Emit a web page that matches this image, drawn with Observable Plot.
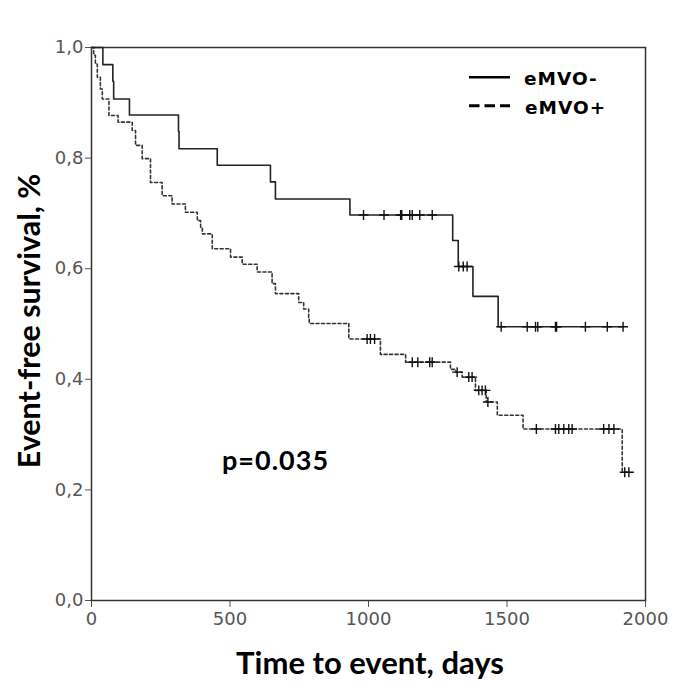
<!DOCTYPE html>
<html>
<head>
<meta charset="utf-8">
<script src="https://cdn.jsdelivr.net/npm/d3@7"></script>
<script src="https://cdn.jsdelivr.net/npm/@observablehq/plot@0.6"></script>
<style>
  body { margin: 0; background: white; }
  #wrap { position: relative; width: 685px; height: 700px; }
  .title { position: absolute; font-family: Lato, "Open Sans", sans-serif; font-weight: bold; color: #000; white-space: nowrap; line-height: 1.2; }
  .leg { position: absolute; font-family: "DejaVu Sans", sans-serif; font-weight: bold; font-size: 18.5px; letter-spacing: 1px; color: #000; white-space: nowrap; line-height: 1.164; }
</style>
</head>
<body>
<div id="wrap"></div>
<script>
// eMVO- (solid): event times (days) and survival after each event
const negTimes = [0, 41, 77, 80, 137, 314, 316, 454, 646, 664, 933, 1304, 1324, 1377, 1468];
const negSurv  = [1.0, 0.969, 0.939, 0.907, 0.878, 0.848, 0.817, 0.787, 0.757, 0.726, 0.697, 0.651, 0.604, 0.550, 0.495];
const negCensored = [982, 1056, 1116, 1120, 1149, 1158, 1185, 1230, 1326, 1342, 1356, 1479, 1573, 1603, 1611, 1675, 1679, 1783, 1862, 1919];

// eMVO+ (dashed)
const posTimes = [0, 8, 14, 21, 32, 39, 63, 96, 147, 159, 183, 213, 255, 291, 339, 382, 394, 400, 436, 502,
                  544, 598, 652, 664, 748, 766, 784, 786, 929, 1043, 1134, 1296, 1315, 1338, 1386, 1425, 1465, 1558, 1916];
const posSurv  = [1.0, 0.986, 0.970, 0.946, 0.925, 0.907, 0.877, 0.865, 0.850, 0.823, 0.799, 0.756, 0.732, 0.717, 0.702, 0.687, 0.675, 0.663, 0.636, 0.621,
                  0.608, 0.594, 0.573, 0.555, 0.539, 0.527, 0.512, 0.501, 0.473, 0.445, 0.431, 0.418, 0.413, 0.404, 0.380, 0.359, 0.335, 0.310, 0.232];
const posCensored = [995, 1007, 1022, 1158, 1178, 1221, 1230, 1320, 1362, 1374, 1398, 1410, 1422, 1431, 1606, 1675, 1687, 1705, 1723, 1735, 1849, 1868, 1886, 1925, 1940];

const xTicks = [0, 500, 1000, 1500, 2000];
const yTicks = [0, 0.2, 0.4, 0.6, 0.8, 1.0];
const seriesNames = ["eMVO-", "eMVO+"];
const xTitle = "Time to event, days";
const yTitle = "Event-free survival, %";
const pText = "p=0.035";

function survAt(times, surv, t) {
  let s = surv[0];
  for (let i = 0; i < times.length; i++) if (times[i] <= t) s = surv[i];
  return s;
}
function stepData(times, surv, censored) {
  const pts = times.map((t, i) => ({t, s: surv[i]}));
  const end = Math.max(times[times.length - 1], censored[censored.length - 1]);
  pts.push({t: end, s: survAt(times, surv, end)});
  return pts;
}
const negLine = stepData(negTimes, negSurv, negCensored);
const posLine = stepData(posTimes, posSurv, posCensored);
const negCens = negCensored.map(t => ({t, s: survAt(negTimes, negSurv, t)}));
const posCens = posCensored.map(t => ({t, s: survAt(posTimes, posSurv, t)}));

const chart = Plot.plot({
  width: 685,
  height: 700,
  marginLeft: 91,
  marginRight: 40,
  marginTop: 47,
  marginBottom: 100,
  style: {fontFamily: "'DejaVu Sans', sans-serif", fontSize: "18px", color: "#555", background: "white", overflow: "visible"},
  x: {domain: [0, 2000], ticks: xTicks, tickSize: 7, tickPadding: 5, label: null, tickFormat: d => String(d)},
  y: {domain: [0, 1], ticks: yTicks, tickSize: 6, tickPadding: 2, label: null, tickFormat: d => d.toFixed(1).replace(".", ",")},
  marks: [
    Plot.frame({stroke: "#333", strokeWidth: 1.5}),
    Plot.line(posLine, {x: "t", y: "s", curve: "step-after", stroke: "#333", strokeWidth: 1.6, strokeDasharray: "3,2.5"}),
    Plot.line(negLine, {x: "t", y: "s", curve: "step-after", stroke: "#222", strokeWidth: 1.6}),
    Plot.dot(negCens, {x: "t", y: "s", symbol: "plus", r: 3.3, stroke: "#111", strokeWidth: 1.4}),
    Plot.dot(posCens, {x: "t", y: "s", symbol: "plus", r: 3.3, stroke: "#111", strokeWidth: 1.4})
  ]
});
const wrap = document.getElementById("wrap");
wrap.appendChild(chart);

function addDiv(cls, text, css) {
  const d = document.createElement("div");
  d.className = cls;
  d.textContent = text;
  Object.assign(d.style, css);
  wrap.appendChild(d);
  return d;
}
addDiv("title", xTitle, {left: "370px", top: "644px", fontSize: "31px", transform: "translateX(-50%)"});
addDiv("title", yTitle, {left: "28px", top: "321px", fontSize: "30.5px", transform: "translate(-50%,-50%) rotate(-90deg)"});
addDiv("title", pText, {left: "222px", top: "444px", fontSize: "27px", letterSpacing: "1px"});

// legend
const legSvg = document.createElementNS("http://www.w3.org/2000/svg", "svg");
legSvg.setAttribute("width", "50");
legSvg.setAttribute("height", "40");
Object.assign(legSvg.style, {position: "absolute", left: "466px", top: "70px"});
legSvg.innerHTML = '<line x1="3" x2="44" y1="7.3" y2="7.3" stroke="#000" stroke-width="2.5"/>' +
                   '<line x1="3" x2="44" y1="35.7" y2="35.7" stroke="#000" stroke-width="3" stroke-dasharray="10.5,5"/>';
wrap.appendChild(legSvg);
addDiv("leg", seriesNames[0], {left: "524px", top: "68px"});
addDiv("leg", seriesNames[1], {left: "525px", top: "97px"});
</script>
</body>
</html>
